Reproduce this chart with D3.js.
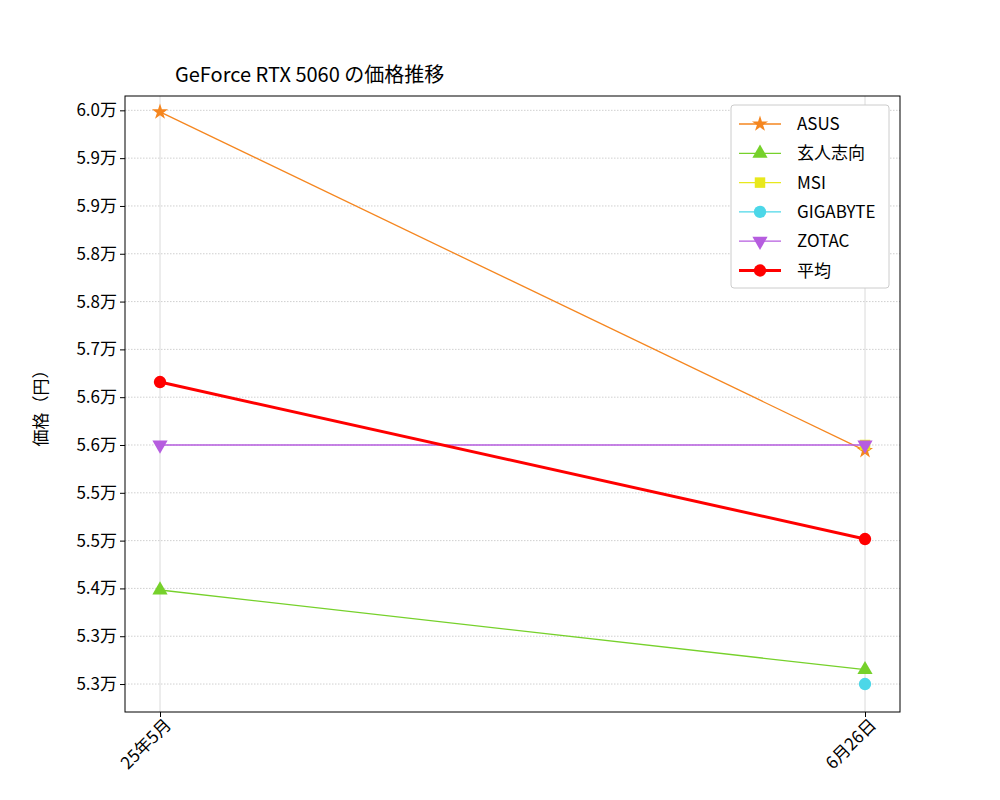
<!DOCTYPE html><html><head><meta charset="utf-8">
<script src="https://cdn.jsdelivr.net/npm/d3@7"></script>
<style>body{margin:0;background:#fff}text{font-family:"Noto Sans CJK JP","DejaVu Sans Mono",monospace}</style></head><body>
<svg id="c" width="1000" height="800"></svg>
<script>
const categories=["25年5月","6月26日"];
const seriesNames=["ASUS","玄人志向","MSI","GIGABYTE","ZOTAC","平均"];
const asus=[59980,55730];
const kurouto=[53980,52980];
const msi=[null,55800];
const gigabyte=[null,52800];
const zotac=[55800,55800];
const average=[56590,54620];
const yTicks=[52800,53400,54000,54600,55200,55800,56400,57000,57600,58200,58800,59400,60000];
const colors=["#f5861f","#76d12b","#e8e81c","#4cd7e8","#b65ddf","#ff0000"];
const symbols=[d3.symbolStar,d3.symbolTriangle,d3.symbolSquare,d3.symbolCircle,"tri-down",d3.symbolCircle];
const data=[asus,kurouto,msi,gigabyte,zotac,average];
const svg=d3.select("#c");
const L=125,R=900,T=96,B=712;
const x=d3.scalePoint().domain(categories).range([160,865]);
const y=d3.scaleLinear().domain([52449,60180]).range([B,T]);
const g=svg.append("g");
g.selectAll(".hg").data(yTicks).join("line").attr("x1",L).attr("x2",R).attr("y1",d=>y(d)).attr("y2",d=>y(d)).attr("stroke","#b0b0b0").attr("stroke-width",0.6).attr("stroke-dasharray","1.5,1.5");
g.selectAll(".vg").data(categories).join("line").attr("x1",d=>x(d)).attr("x2",d=>x(d)).attr("y1",T).attr("y2",B).attr("stroke","#d0d0d0").attr("stroke-width",0.8);
const sizes=[80,100,110,120,100,120];
function marker(sel,i){
  const s=symbols[i];
  if(s==="tri-down") sel.attr("d",d3.symbol(d3.symbolTriangle,sizes[i])()).attr("transform",sel.attr("transform")+" rotate(180)");
  else sel.attr("d",d3.symbol(s,sizes[i])());
}
data.forEach((vals,i)=>{
  const pts=vals.map((v,j)=>[categories[j],v]).filter(p=>p[1]!=null);
  g.append("path").datum(pts).attr("fill","none").attr("stroke",colors[i]).attr("stroke-width",i===5?3:1.3)
   .attr("d",d3.line().x(p=>x(p[0])).y(p=>y(p[1])));
  pts.forEach(p=>{
    const m=g.append("path").attr("fill",colors[i]).attr("transform",`translate(${x(p[0])},${y(p[1])})`);
    marker(m,i);
  });
});
const ya=svg.append("g").attr("transform",`translate(${L},0)`).call(d3.axisLeft(y).tickValues(yTicks).tickSize(5).tickFormat(d=>(d/10000).toFixed(1)+"万"));
ya.selectAll("text").attr("font-size",17).attr("fill","#000");
const xa=svg.append("g").attr("transform",`translate(0,${B})`).call(d3.axisBottom(x).tickSize(5));
xa.selectAll("text").attr("font-size",17).attr("fill","#000").attr("text-anchor","end").attr("dx","-0.1em").attr("dy","0.6em").attr("transform","rotate(-45)");
svg.selectAll(".domain").remove();
svg.append("rect").attr("x",L).attr("y",T).attr("width",R-L).attr("height",B-T).attr("fill","none").attr("stroke","#000");
svg.append("text").attr("x",175).attr("y",82).attr("font-size",20).text("GeForce RTX 5060 の価格推移");
svg.append("text").attr("transform","translate(47,404) rotate(-90)").attr("text-anchor","middle").attr("font-size",17).text("価格（円）");
const lg=svg.append("g");
lg.append("rect").attr("x",731).attr("y",105).attr("width",158).attr("height",183).attr("rx",3).attr("fill","#fff").attr("stroke","#ccc");
seriesNames.forEach((n,i)=>{
  const yy=124+i*29.3;
  lg.append("line").attr("x1",739).attr("x2",781).attr("y1",yy).attr("y2",yy).attr("stroke",colors[i]).attr("stroke-width",i===5?3:1.3);
  const m=lg.append("path").attr("fill",colors[i]).attr("transform",`translate(760,${yy})`);
  marker(m,i);
  lg.append("text").attr("x",797).attr("y",yy+6).attr("font-size",17).text(n);
});
</script></body></html>
